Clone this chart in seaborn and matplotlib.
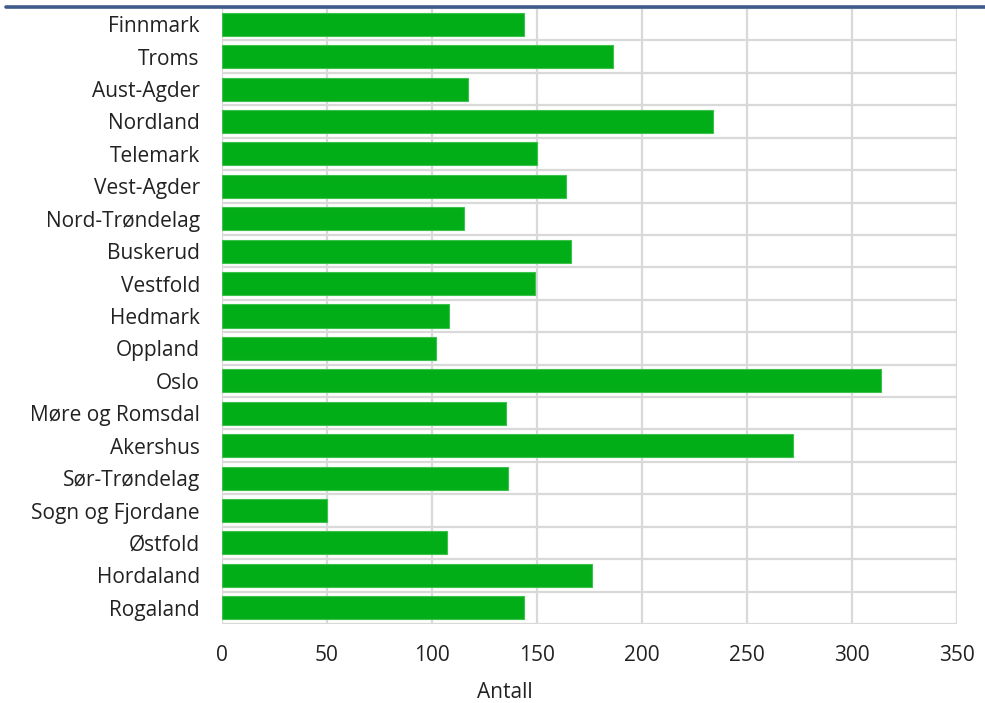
import matplotlib.pyplot as plt
import matplotlib.lines as mlines
import numpy as np
import pandas as pd
import seaborn as sns

fylker = ["Finnmark", "Troms", "Aust-Agder", "Nordland", "Telemark", "Vest-Agder",
          "Nord-Trøndelag", "Buskerud", "Vestfold", "Hedmark", "Oppland", "Oslo",
          "Møre og Romsdal", "Akershus", "Sør-Trøndelag", "Sogn og Fjordane",
          "Østfold", "Hordaland", "Rogaland"]
antall = [144, 186, 117, 234, 150, 164, 115, 166, 149, 108, 102, 314,
          135, 272, 136, 50, 107, 176, 144]
xticks = [0, 50, 100, 150, 200, 250, 300, 350]

df = pd.DataFrame({"fylke": fylker, "antall": antall})

sns.set_style("white")
plt.rcParams['font.family'] = ['Open Sans', 'DejaVu Sans']

fig = plt.figure(figsize=(9.85, 7.03), dpi=100)
ax = fig.add_axes([0.2254, 0.1124, 0.7462, 0.8762])

sns.barplot(data=df, x="antall", y="fylke", order=fylker, color="#02ae18",
            saturation=1, width=0.71, edgecolor="#3cc24c", linewidth=0.8, ax=ax)

grid_c = "#d9d9d9"
ax.set_xlim(0, 350)
ax.set_ylim(len(fylker) - 0.5, -0.5)
ax.set_xticks(xticks)
ax.set_yticks(np.arange(-0.5, len(fylker), 1), minor=True)
ax.grid(axis="x", which="major", color=grid_c, linewidth=1.6)
ax.grid(axis="y", which="minor", color=grid_c, linewidth=1.6)
ax.set_axisbelow(True)
for s in ax.spines.values():
    s.set_visible(False)

ax.tick_params(axis="x", which="major", length=6, width=1.6, color=grid_c,
               labelsize=15, pad=9, labelcolor="#222222")
ax.tick_params(axis="y", which="both", length=0, labelsize=15, pad=16,
               labelcolor="#222222")
ax.set_xlabel("Antall", fontsize=15, labelpad=10, color="#222222")
ax.xaxis.set_label_coords(0.385, -0.095)
ax.set_ylabel("")

# blue rule from the original page header
fig.add_artist(mlines.Line2D([0.006, 1.0], [0.990, 0.990], color="#3e5a8a",
                             linewidth=2.6, transform=fig.transFigure))

plt.savefig("out.png", dpi=100)
